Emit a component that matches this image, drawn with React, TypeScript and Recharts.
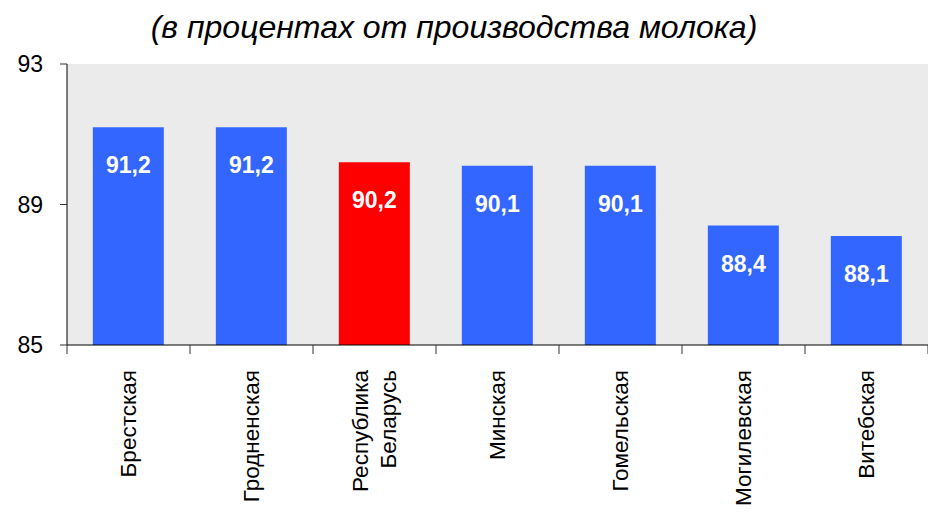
import React from 'react';
import { BarChart, Bar, XAxis, YAxis, CartesianGrid, Cell, LabelList } from 'recharts';

const regions = ['Брестская', 'Гродненская', 'Республика Беларусь', 'Минская', 'Гомельская', 'Могилевская', 'Витебская'];
const shares = [91.2, 91.2, 90.2, 90.1, 90.1, 88.4, 88.1];
const yTicks = [85, 89, 93];
const highlight = 'Республика Беларусь';

const data = regions.map((name, i) => ({ name, value: shares[i] }));

const FONT = '"Liberation Sans", Arial, sans-serif';

function RegionTick(props: any) {
  const { x, y, payload } = props;
  const half = payload.offset ?? 0;
  const words = String(payload.value).split(' ');
  const lineH = 1.25;
  const first = -((words.length - 1) * lineH) / 2 + 0.35;
  return (
    <g>
      <line x1={x - half} y1={y - 8} x2={x - half} y2={y + 1} stroke="#333" />
      {payload.index === regions.length - 1 && (
        <line x1={x + half} y1={y - 8} x2={x + half} y2={y + 1} stroke="#333" />
      )}
      <text
        transform={`translate(${x},${y + 17}) rotate(-90)`}
        textAnchor="end"
        fontSize={22.5}
        fontFamily={FONT}
        fill="#000"
      >
        {words.map((w, i) => (
          <tspan key={w} x={0} dy={`${i === 0 ? first : lineH}em`}>{w}</tspan>
        ))}
      </text>
    </g>
  );
}

function ValueLabel(props: any) {
  const { x, y, width, value } = props;
  return (
    <text
      x={x + width / 2}
      y={y + 38}
      textAnchor="middle"
      dominantBaseline="central"
      fill="#fff"
      fontWeight="bold"
      fontSize={23}
      fontFamily={FONT}
    >
      {String(value).replace('.', ',')}
    </text>
  );
}

export default function App() {
  return (
    <div style={{ position: 'relative', width: 928, height: 512, background: '#fff', fontFamily: FONT }}>
      <style>{'body{margin:0}'}</style>
      <div
        style={{
          position: 'absolute',
          top: 8,
          left: 0,
          width: 908,
          textAlign: 'center',
          fontSize: 32,
          fontStyle: 'italic',
          fontFamily: FONT,
          lineHeight: '38px',
        }}
      >
        (в процентах от производства молока)
      </div>
      <BarChart
        width={928}
        height={512}
        data={data}
        margin={{ top: 64, right: 0, bottom: 0, left: 0 }}
        barCategoryGap="21%"
      >
        <CartesianGrid horizontal={false} vertical={false} fill="#EBEBEB" />
        <YAxis
          width={67}
          domain={[85, 93]}
          ticks={yTicks}
          interval={0}
          allowDataOverflow
          axisLine={{ stroke: '#000' }}
          tickLine={{ stroke: '#333' }}
          tickSize={7}
          tickMargin={17}
          tick={{ fontSize: 23, fill: '#000', fontFamily: FONT }}
        />
        <XAxis
          dataKey="name"
          height={167}
          interval={0}
          axisLine={{ stroke: '#000' }}
          tickLine={false}
          tick={<RegionTick />}
        />
        <Bar dataKey="value" isAnimationActive={false}>
          {data.map((d) => (
            <Cell key={d.name} fill={d.name === highlight ? '#FF0000' : '#3366FF'} />
          ))}
          <LabelList dataKey="value" content={<ValueLabel />} />
        </Bar>
      </BarChart>
    </div>
  );
}
